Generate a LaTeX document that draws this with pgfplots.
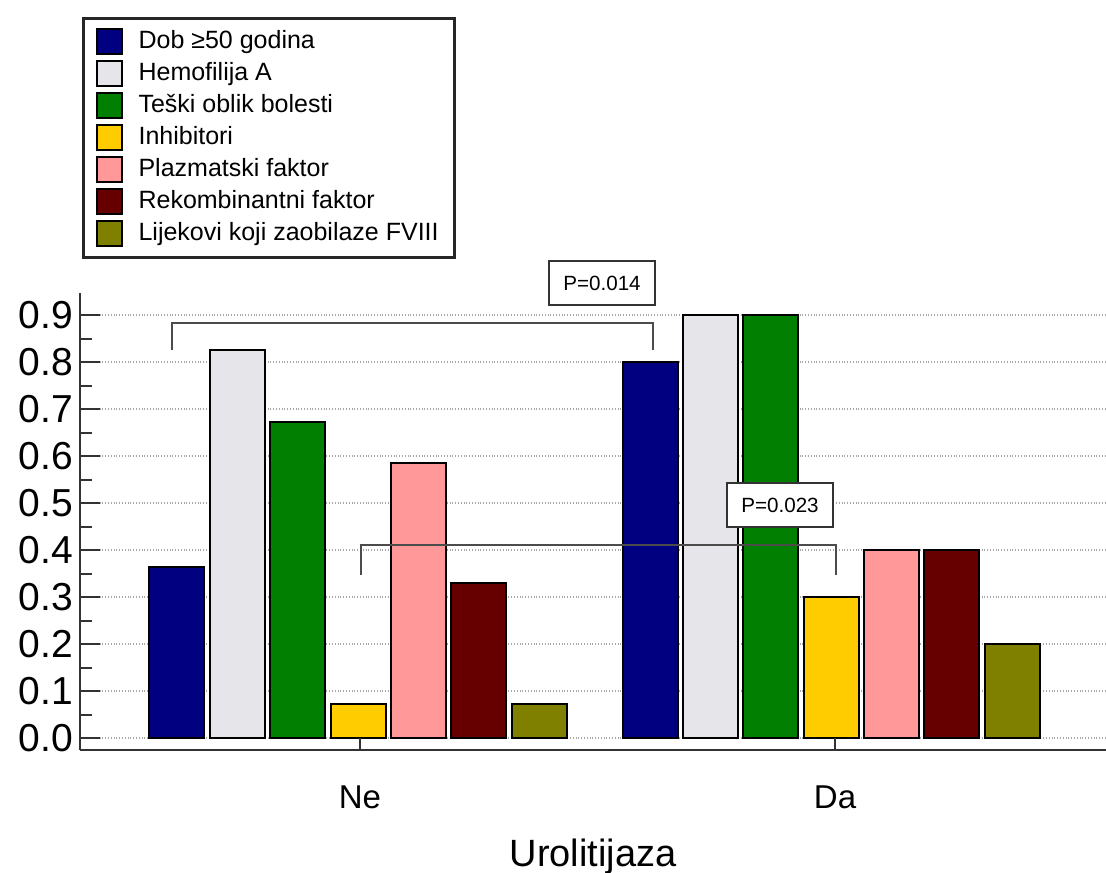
\documentclass[border=0pt]{standalone}
\usepackage{fontspec}
\setmainfont{Liberation Sans}
\usepackage{pgfplots}
\pgfplotsset{compat=1.18}

\definecolor{cNavy}{RGB}{0,0,128}
\definecolor{cLight}{RGB}{230,230,234}
\definecolor{cGreen}{RGB}{0,127,0}
\definecolor{cYellow}{RGB}{255,204,0}
\definecolor{cPink}{RGB}{255,153,153}
\definecolor{cMaroon}{RGB}{102,0,0}
\definecolor{cOlive}{RGB}{128,128,0}

\pgfplotsset{
  sqbar/.style={ybar, bar width=55, bar shift=0pt, draw=black, line width=1pt, fill=#1,
    area legend,
    legend image code/.code={\draw[fill=#1, draw=black, line width=1pt] (0pt,-6pt) rectangle (12.5pt,6.5pt);}},
}

\begin{document}
\begin{tikzpicture}
\path[use as bounding box] (0,0) rectangle (553pt,436pt);
\begin{axis}[
    at={(40pt,61pt)}, anchor=south west,
    scale only axis,
    width=513pt, height=228.5pt,
    xmin=80, xmax=1106,
    ymin=-0.0255, ymax=0.947,
    clip=false,
    axis x line=bottom, axis y line=left,
    axis line style={-, line width=1.1pt, black!80},
    xtick={360,835}, xticklabels={Ne,Da},
    xtick style={draw=none},
    xticklabel style={font=\fontsize{16.5}{18}\selectfont, yshift=-14.5pt},
    ytick={0,0.1,...,0.9},
    minor y tick num=1,
    tick align=inside,
    major tick length=10pt, minor tick length=6pt,
    ytick style={line width=1.2pt, black!80},
    minor y tick style={line width=1pt},
    yticklabel style={font=\fontsize{19.5}{21}\selectfont},
    /pgf/number format/.cd, fixed, fixed zerofill, precision=1, assume math mode=true,
    /pgfplots/.cd,
    ymajorgrids,
    grid style={densely dotted, gray!70, line width=0.8pt},
    xlabel={Urolitijaza},
    xlabel style={font=\fontsize{19}{21}\selectfont, yshift=-8pt},
    legend cell align=left,
    legend style={at={(rel axis cs:0.002,1.604)}, anchor=north west,
      draw=black!85, line width=1.5pt, font=\fontsize{12.5}{14}\selectfont,
      inner xsep=6pt, inner ysep=4pt, row sep=0.5pt, column sep=6pt,
      nodes={text height=9pt, text depth=2.5pt, inner sep=2pt}},
]
\addplot[sqbar=cNavy]   coordinates {(176.5,0.364) (650,0.800)};
\addplot[sqbar=cLight]  coordinates {(237.5,0.826) (710,0.900)};
\addplot[sqbar=cGreen]  coordinates {(297.5,0.672) (770.5,0.900)};
\addplot[sqbar=cYellow] coordinates {(358,0.072) (831,0.300)};
\addplot[sqbar=cPink]   coordinates {(418.5,0.586) (891,0.400)};
\addplot[sqbar=cMaroon] coordinates {(478.5,0.330) (951.5,0.400)};
\addplot[sqbar=cOlive]  coordinates {(539,0.072) (1012,0.200)};
\legend{Dob ≥50 godina, Hemofilija A, Teški oblik bolesti, Inhibitori, Plazmatski faktor, Rekombinantni faktor, Lijekovi koji zaobilaze FVIII}

% x ticks pointing up from the axis
\draw[line width=1.2pt, black!80] (axis cs:360,-0.0255) -- (axis cs:360,0);
\draw[line width=1.2pt, black!80] (axis cs:835,-0.0255) -- (axis cs:835,0);

% significance brackets
\draw[line width=0.8pt, black!70] (axis cs:172,0.826) -- (axis cs:172,0.883) -- (axis cs:653,0.883) -- (axis cs:653,0.826);
\draw[line width=0.8pt, black!70] (axis cs:361,0.347) -- (axis cs:361,0.411) -- (axis cs:836,0.411) -- (axis cs:836,0.347);
\node[draw=black!80, line width=0.8pt, fill=white, minimum width=53pt, minimum height=22pt, inner sep=0pt, font=\fontsize{10.3}{12}\selectfont] at (axis cs:602,0.968) {P=0.014};
\node[draw=black!80, line width=0.8pt, fill=white, minimum width=53pt, minimum height=22pt, inner sep=0pt, font=\fontsize{10.3}{12}\selectfont] at (axis cs:780,0.496) {P=0.023};
\end{axis}
\end{tikzpicture}
\end{document}
